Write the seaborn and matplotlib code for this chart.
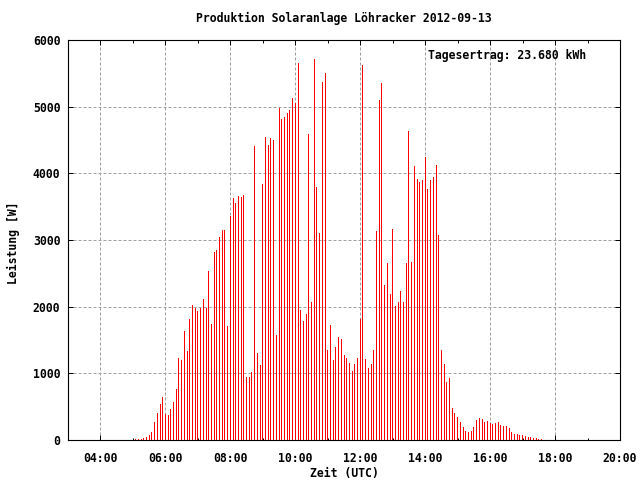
import pandas as pd
import matplotlib
matplotlib.use("Agg")
import matplotlib.pyplot as plt
import seaborn as sns

# -----------------------------------
# Daten (5-Minuten-Werte, 05:05 - 17:35 UTC)
# -----------------------------------

start_time = "2012-09-13 05:05"
end_time = "2012-09-13 17:35"

leistung = [
    15, 15, 15, 30, 50, 75, 115, 270, 405, 540, 645,          # 05:05 - 05:55
    395, 375, 465, 570, 765, 1230, 1200, 1635, 1335, 1815, 2025, 1975,  # 06:00 - 06:55
    1935, 1975, 2115, 1975, 2535, 1740, 2820, 2850, 3045, 3150, 3150, 1710,  # 07:00 - 07:55
    3360, 3630, 3555, 3660, 3645, 3675, 945, 945, 1020, 4410, 1305, 1125,  # 08:00 - 08:55
    3840, 4545, 4425, 4530, 4500, 1575, 4980, 4815, 4845, 4905, 4950, 5130,  # 09:00 - 09:55
    5055, 5655, 1950, 1785, 1890, 4590, 2070, 5715, 3795, 3105, 5370, 5505,  # 10:00 - 10:55
    1350, 1725, 1200, 1395, 1545, 1515, 1275, 1230, 1155, 1035, 1140, 1230,  # 11:00 - 11:55
    1815, 5625, 1215, 1080, 1140, 1350, 3135, 5100, 5355, 2325, 2655, 2190,  # 12:00 - 12:55
    3165, 2010, 2070, 2235, 2070, 2655, 4635, 2670, 4110, 3915, 3870, 3900,  # 13:00 - 13:55
    4245, 3765, 3900, 3945, 4125, 3075, 1350, 1140, 870, 930, 480, 400,  # 14:00 - 14:55
    345, 270, 195, 140, 120, 135, 195, 300, 335, 315, 270, 285,  # 15:00 - 15:55
    255, 245, 255, 270, 220, 210, 210, 180, 125, 90, 90, 75,  # 16:00 - 16:55
    75, 60, 45, 45, 30, 30, 15, 15,  # 17:00 - 17:35
]

xtick_hours = [4, 6, 8, 10, 12, 14, 16, 18, 20]
xtick_labels = ["04:00", "06:00", "08:00", "10:00", "12:00", "14:00", "16:00", "18:00", "20:00"]
ytick_values = [0, 1000, 2000, 3000, 4000, 5000, 6000]

titel = "Produktion Solaranlage Löhracker 2012-09-13"
tagesertrag = "Tagesertrag: 23.680 kWh"

zeiten = pd.date_range(start_time, end_time, freq="5min")
df = pd.DataFrame({
    "stunde": zeiten.hour + zeiten.minute / 60,
    "leistung": leistung,
})

# -----------------------------------
# Plot
# -----------------------------------

sns.set_style("white")
plt.rcParams["font.family"] = ["DejaVu Sans Mono"]
plt.rcParams["font.weight"] = "bold"
plt.rcParams["axes.titleweight"] = "bold"
plt.rcParams["axes.labelweight"] = "bold"

fig = plt.figure(figsize=(6.4, 4.8), dpi=100)
ax = fig.add_axes([68 / 640, 40 / 480, 552 / 640, 400 / 480])

step = 5 / 60
# Balkenbreite: genau 1 Pixel (17 h auf 552 px)
shrink = (17 / 552) / step
sns.histplot(data=df, x="stunde", weights="leistung",
             binwidth=step, binrange=(5 + step / 2, 17.5 + 1.5 * step),
             shrink=shrink, color="red", alpha=1, linewidth=0, ax=ax)
for p in ax.patches:
    p.set_antialiased(False)

ax.set_xlim(3, 20)
ax.set_ylim(0, 6000)
ax.set_xticks(xtick_hours)
ax.set_xticklabels(xtick_labels)
ax.set_xticks(range(3, 21), minor=True)
ax.set_yticks(ytick_values)

ax.tick_params(which="major", direction="in", top=True, right=True,
               bottom=True, left=True, length=3.3, width=0.72,
               labelsize=8.3, color="black", labelcolor="black")
ax.tick_params(axis="x", which="major", pad=8.3)
ax.tick_params(axis="y", which="major", pad=5.5)
ax.tick_params(axis="x", which="minor", direction="in", top=True,
               bottom=True, length=1.8, width=0.72, color="black")

for s in ax.spines.values():
    s.set_color("black")
    s.set_linewidth(0.8)

ax.grid(True, which="major", color="#a0a0a0", linestyle=(0, (3, 2)), linewidth=0.72)
ax.set_axisbelow(True)

ax.set_title(titel, fontsize=8.3, y=1.055, pad=0, va="center", color="black")
ax.set_xlabel("Zeit (UTC)", fontsize=8.3, color="black")
ax.xaxis.set_label_coords(0.5, -0.0825)
ax.xaxis.label.set_va("center")
ax.set_ylabel("Leistung [W]", fontsize=8.3, color="black")
ax.yaxis.set_label_coords(-0.0985, 0.4925)
ax.yaxis.label.set_va("center")

ax.text(0.9384, 0.96, tagesertrag, transform=ax.transAxes, ha="right",
        va="center", fontsize=8.3, color="black")

fig.savefig("out.png", dpi=100)
